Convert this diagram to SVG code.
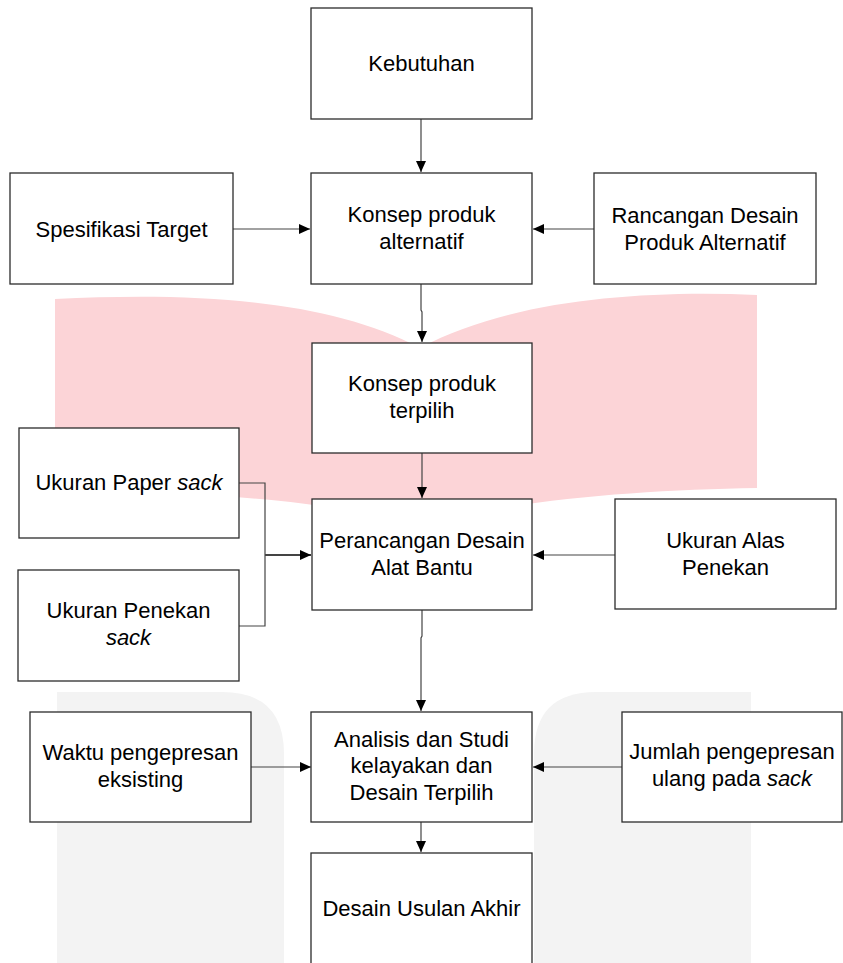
<svg xmlns="http://www.w3.org/2000/svg" width="843" height="963" viewBox="0 0 843 963">
<style>
.box{fill:#fff;stroke:#2b2b2b;stroke-width:1.3}
.t{font-family:"Liberation Sans",Arial,sans-serif;font-size:22px;fill:#000;text-anchor:middle}
.c{fill:none;stroke:#444;stroke-width:1.2}
</style>
<defs>
<marker id="ah" markerWidth="12" markerHeight="10" refX="11" refY="5" orient="auto" markerUnits="userSpaceOnUse">
<path d="M0,0 L11,5 L0,10 Z" fill="#000"/>
</marker>
</defs>
<rect width="843" height="963" fill="#fff"/>
<g id="watermark">
<path d="M55,299 C200,292 330,300 420,348 C510,300 640,290 757,295 L757,488 C640,490 500,500 420,528 C340,500 200,492 55,490 Z" fill="#fcd4d7"/>
<path d="M57,963 L57,692 L222,692 Q284,692 284,754 L284,963 Z" fill="#f3f3f3"/>
<path d="M751,963 L751,692 L596,692 Q534,692 534,754 L534,963 Z" fill="#f3f3f3"/>
</g>
<g id="connectors">
<line class="c" x1="421" y1="119" x2="421" y2="172" marker-end="url(#ah)"/>
<line class="c" x1="233" y1="229" x2="310" y2="229" marker-end="url(#ah)"/>
<line class="c" x1="594" y1="229" x2="533" y2="229" marker-end="url(#ah)"/>
<polyline class="c" points="421,284 421,310 422,312 422,342" marker-end="url(#ah)"/>
<line class="c" x1="422" y1="453" x2="422" y2="498" marker-end="url(#ah)"/>
<polyline class="c" points="239,483 265,483 265,626 239,626"/>
<line class="c" x1="265" y1="555" x2="311" y2="555" marker-end="url(#ah)" style="stroke-width:1.8"/>
<line class="c" x1="615" y1="555" x2="533" y2="555" marker-end="url(#ah)"/>
<polyline class="c" points="422,610 422,636 421,638 421,711" marker-end="url(#ah)"/>
<line class="c" x1="251" y1="767" x2="311" y2="767" marker-end="url(#ah)"/>
<line class="c" x1="622" y1="767" x2="533" y2="767" marker-end="url(#ah)"/>
<line class="c" x1="421" y1="822" x2="421" y2="852" marker-end="url(#ah)"/>
</g>
<g id="kebutuhan"><rect class="box" x="311" y="8" width="221" height="111"/><text class="t" x="421.5" y="71">Kebutuhan</text></g>
<g id="spesifikasi-target"><rect class="box" x="10" y="173" width="223" height="111"/><text class="t" x="121.5" y="237">Spesifikasi Target</text></g>
<g id="konsep-alternatif"><rect class="box" x="311" y="173" width="221" height="111"/><text class="t" x="421.5" y="222">Konsep produk</text><text class="t" x="421.5" y="249">alternatif</text></g>
<g id="rancangan-desain"><rect class="box" x="594" y="173" width="222" height="111"/><text class="t" x="705" y="223">Rancangan Desain</text><text class="t" x="705" y="250">Produk Alternatif</text></g>
<g id="konsep-terpilih"><rect class="box" x="312" y="343" width="220" height="110"/><text class="t" x="422" y="391">Konsep produk</text><text class="t" x="422" y="418">terpilih</text></g>
<g id="ukuran-paper"><rect class="box" x="19" y="428" width="220" height="110"/><text class="t" x="129" y="490">Ukuran Paper <tspan font-style="italic">sack</tspan></text></g>
<g id="ukuran-penekan"><rect class="box" x="18" y="570" width="221" height="111"/><text class="t" x="128.5" y="618">Ukuran Penekan</text><text class="t" x="128.5" y="645" font-style="italic">sack</text></g>
<g id="perancangan"><rect class="box" x="312" y="499" width="220" height="111"/><text class="t" x="422" y="548">Perancangan Desain</text><text class="t" x="422" y="575">Alat Bantu</text></g>
<g id="ukuran-alas"><rect class="box" x="615" y="499" width="221" height="110"/><text class="t" x="725.5" y="548">Ukuran Alas</text><text class="t" x="725.5" y="575">Penekan</text></g>
<g id="waktu"><rect class="box" x="30" y="712" width="221" height="110"/><text class="t" x="140.5" y="760">Waktu pengepresan</text><text class="t" x="140.5" y="787">eksisting</text></g>
<g id="analisis"><rect class="box" x="311" y="712" width="221" height="110"/><text class="t" x="421.5" y="747">Analisis dan Studi</text><text class="t" x="421.5" y="773">kelayakan dan</text><text class="t" x="421.5" y="800">Desain Terpilih</text></g>
<g id="jumlah"><rect class="box" x="622" y="712" width="220" height="110"/><text class="t" x="732" y="759">Jumlah pengepresan</text><text class="t" x="732" y="786">ulang pada <tspan font-style="italic">sack</tspan></text></g>
<g id="desain-usulan"><rect class="box" x="311" y="853" width="221" height="130"/><text class="t" x="421.5" y="916">Desain Usulan Akhir</text></g>
</svg>
